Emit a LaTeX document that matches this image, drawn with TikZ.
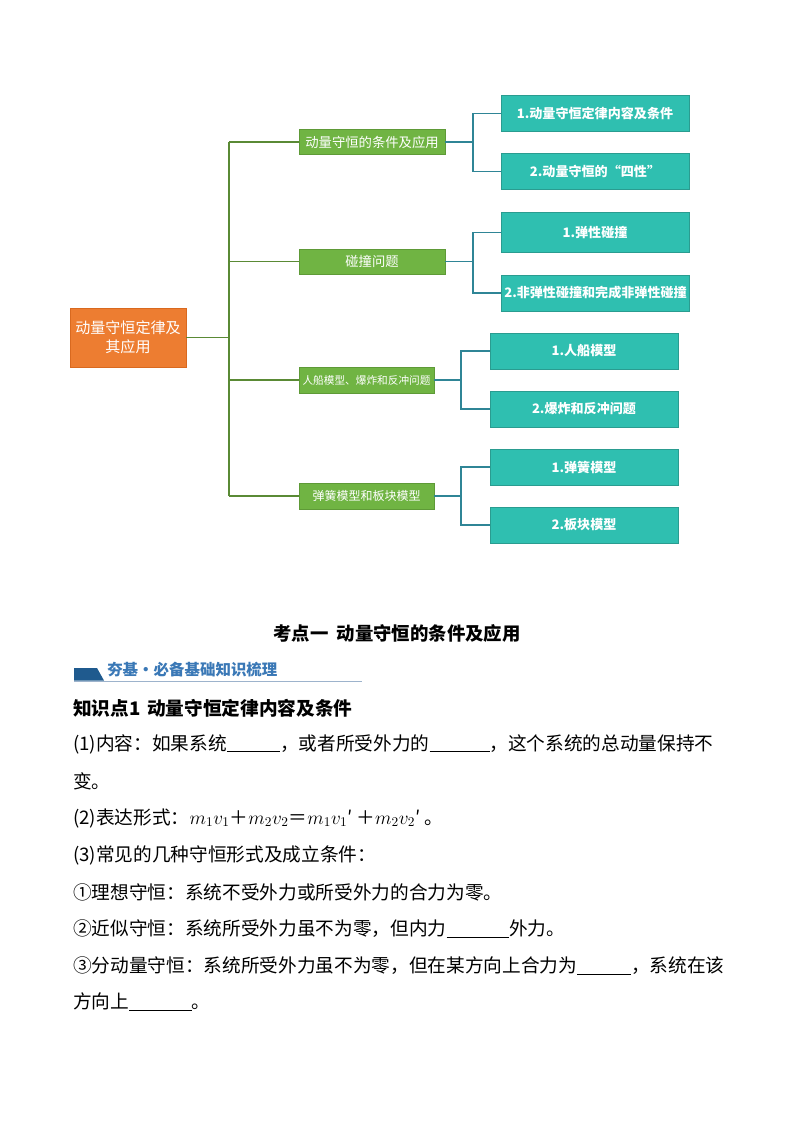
\documentclass[tikz,border=0pt]{standalone}
\usepackage{fontspec}
\setmainfont{Noto Sans CJK SC}
\definecolor{orF}{HTML}{ED7D31}
\definecolor{orD}{HTML}{D9691F}
\definecolor{grF}{HTML}{70B443}
\definecolor{grD}{HTML}{5E9A37}
\definecolor{tlF}{HTML}{2FBFB0}
\definecolor{tlD}{HTML}{2A9C90}
\definecolor{trL}{HTML}{5A8A35}
\definecolor{brL}{HTML}{2F8596}
\definecolor{hdB}{HTML}{1F5A8E}
\definecolor{hdT}{HTML}{3A78B6}
\definecolor{hdL}{HTML}{9DB3CC}
\newcommand\myblank[1]{\rule[-1.5pt]{#1}{0.5pt}}
\begin{document}
\begin{tikzpicture}[x=0.75pt,y=-0.75pt,
  rootbox/.style={draw=orD, fill=orF, text=white, minimum width=87pt, minimum height=44.25pt, inner sep=0pt, align=center, line width=0.6pt, font=\fontsize{11.3}{14.3}\selectfont},
  lvone/.style={draw=grD, fill=grF, text=white, minimum height=18.6pt, inner sep=0pt, line width=0.6pt},
  lvtwo/.style={draw=tlD, fill=tlF, text=white, minimum width=141pt, minimum height=27pt, inner sep=0pt, line width=0.6pt, font=\bfseries\fontsize{9.8}{12}\selectfont},
  trunkline/.style={draw=trL, line width=0.9pt},
  branchline/.style={draw=brL, line width=0.9pt},
  body/.style={anchor=west, inner sep=0pt, font=\fontsize{14}{17}\selectfont}
]
\useasboundingbox (0,0) rectangle (794,1123);

% ---- mind map ----
\node[rootbox] (root) at (128,337.5) {动量守恒定律及\\其应用};

\node[lvone, minimum width=109.5pt, font=\fontsize{10}{12}\selectfont] (g1) at (372,142) {动量守恒的条件及应用};
\node[lvone, minimum width=109.5pt, font=\fontsize{10}{12}\selectfont] (g2) at (372,261.5) {碰撞问题};
\node[lvone, minimum width=101.25pt, minimum height=19.5pt, font=\fontsize{8}{10}\selectfont] (g3) at (366.5,380) {人船模型、爆炸和反冲问题};
\node[lvone, minimum width=101.25pt, minimum height=19.5pt, font=\fontsize{9}{11}\selectfont] (g4) at (366.5,496) {弹簧模型和板块模型};

\node[lvtwo] (tA) at (595,113.5) {1.动量守恒定律内容及条件};
\node[lvtwo] (tB) at (595,171.5) {2.动量守恒的“四性”};
\node[lvtwo, minimum height=30pt] (tC) at (595,232.5) {1.弹性碰撞};
\node[lvtwo] (tD) at (595.5,293) {2.非弹性碰撞和完成非弹性碰撞};
\node[lvtwo] (tE) at (584,351) {1.人船模型};
\node[lvtwo] (tF) at (584,409) {2.爆炸和反冲问题};
\node[lvtwo] (tG) at (584,467) {1.弹簧模型};
\node[lvtwo] (tH) at (584,525) {2.板块模型};

\coordinate (tk) at (229,0);
\coordinate (b1) at (473,0);
\coordinate (b2) at (461,0);

\draw[trunkline] (root.east) -- (root.east -| tk);
\draw[trunkline] (g1.west -| tk) -- (g4.west -| tk);
\draw[trunkline] (g1.west) -- (g1.west -| tk);
\draw[trunkline] (g2.west) -- (g2.west -| tk);
\draw[trunkline] (g3.west) -- (g3.west -| tk);
\draw[trunkline] (g4.west) -- (g4.west -| tk);

\draw[branchline] (g1.east) -- (g1.east -| b1);
\draw[branchline] (tA.west) -| (b1 |- tB.west) -- (tB.west);
\draw[branchline] (g2.east) -- (g2.east -| b1);
\draw[branchline] (tC.west) -| (b1 |- tD.west) -- (tD.west);
\draw[branchline] (g3.east) -- (g3.east -| b2);
\draw[branchline] (tE.west) -| (b2 |- tF.west) -- (tF.west);
\draw[branchline] (g4.east) -- (g4.east -| b2);
\draw[branchline] (tG.west) -| (b2 |- tH.west) -- (tH.west);

% ---- headings ----
\node[inner sep=0pt, font=\bfseries\fontsize{13.8}{16}\selectfont] (kd) at (397,633) {考点一\hspace{0.45em}动量守恒的条件及应用};

\fill[hdB] (74,668) -- (97,668) -- (104,680.5) -- (74,680.5) -- cycle;
\draw[hdL, line width=1.2pt] (74,681.5) -- (362,681.5);
\node[anchor=west, inner sep=0pt, text=hdT, font=\bfseries\fontsize{11.6}{14}\selectfont] (hd) at (107,670) {夯基·必备基础知识梳理};

\node[anchor=west, inner sep=0pt, font=\bfseries\fontsize{14}{17}\selectfont] (zs) at (73,708) {知识点1\hspace{0.35em}动量守恒定律内容及条件};

% ---- body ----
\node[body] (l1) at (73,744) {(1)内容：如果系统\myblank{40pt}，或者所受外力的\myblank{45pt}，这个系统的总动量保持不};
\node[body] (l2) at (73,781) {变。};
\node[body] (l3) at (73,818) {(2)表达形式：$m_1v_1$＋$m_2v_2$＝$m_1v_1$′\hspace{0.2em}＋$m_2v_2$′\hspace{0.2em}。};
\node[body] (l4) at (73,855) {(3)常见的几种守恒形式及成立条件：};
\node[body] (l5) at (73,892) {①理想守恒：系统不受外力或所受外力的合力为零。};
\node[body] (l6) at (73,929) {②近似守恒：系统所受外力虽不为零，但内力\myblank{47pt}外力。};
\node[body] (l7) at (73,966) {③分动量守恒：系统所受外力虽不为零，但在某方向上合力为\myblank{40.5pt}，系统在该};
\node[body] (l8) at (73,1002) {方向上\myblank{47pt}。};
\end{tikzpicture}
\end{document}
